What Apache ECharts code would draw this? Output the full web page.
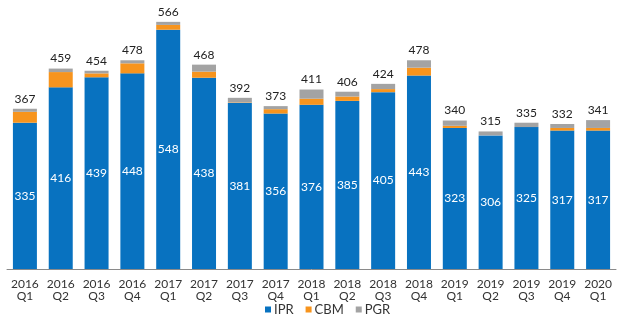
<!DOCTYPE html>
<html><head><meta charset="utf-8">
<script src="https://cdn.jsdelivr.net/npm/echarts@6/dist/echarts.min.js"></script>
<style>html,body{margin:0;padding:0;background:#fff}#c{width:624px;height:325px}</style>
</head><body><div id="c"></div>
<script>
const categories = ["2016\nQ1","2016\nQ2","2016\nQ3","2016\nQ4","2017\nQ1","2017\nQ2","2017\nQ3","2017\nQ4","2018\nQ1","2018\nQ2","2018\nQ3","2018\nQ4","2019\nQ1","2019\nQ2","2019\nQ3","2019\nQ4","2020\nQ1"];
const ipr = [335,416,439,448,548,438,381,356,376,385,405,443,323,306,325,317,317];
const cbm = [25,35,9,23,11,14,1,10,14,10,7,18,5,0,0,6,6];
const pgr = [7,8,6,7,7,16,10,7,21,11,12,17,12,9,10,9,18];
const totals = [367,459,454,478,566,468,392,373,411,406,424,478,340,315,335,332,341];

const font = 'Lato, "Open Sans", sans-serif';
const chart = echarts.init(document.getElementById('c'), null, {renderer:'canvas'});
chart.setOption({
  animation:false,
  textStyle:{fontFamily:font},
  grid:{left:7,right:8,top:7,bottom:56,containLabel:false},
  legend:{
    bottom:4,left:260,itemWidth:6,itemHeight:6,itemGap:12,icon:'rect',
    textStyle:{fontFamily:font,fontSize:13,color:'#333',padding:[0,0,0,-2]},
    data:['IPR','CBM','PGR']
  },
  xAxis:{
    type:'category',data:categories,
    axisLine:{lineStyle:{color:'#8a8a8a',width:1}},
    axisTick:{show:false},
    axisLabel:{color:'#333',fontFamily:font,fontSize:12,lineHeight:12,margin:9,interval:0}
  },
  yAxis:{type:'value',min:0,max:600,show:false,splitLine:{show:false}},
  series:[
    {name:'IPR',type:'bar',stack:'t',data:ipr,barWidth:24,
     itemStyle:{color:'#0872C0'},
     label:{show:true,position:'inside',color:'#fff',fontFamily:font,fontSize:12}},
    {name:'CBM',type:'bar',stack:'t',data:cbm,barWidth:24,itemStyle:{color:'#F7941D'}},
    {name:'PGR',type:'bar',stack:'t',data:pgr,barWidth:24,itemStyle:{color:'#A3A3A3'},
     label:{show:true,position:'top',distance:4,color:'#222',fontFamily:font,fontSize:12,
       formatter:p=>String(totals[p.dataIndex])}}
  ]
});
</script></body></html>
